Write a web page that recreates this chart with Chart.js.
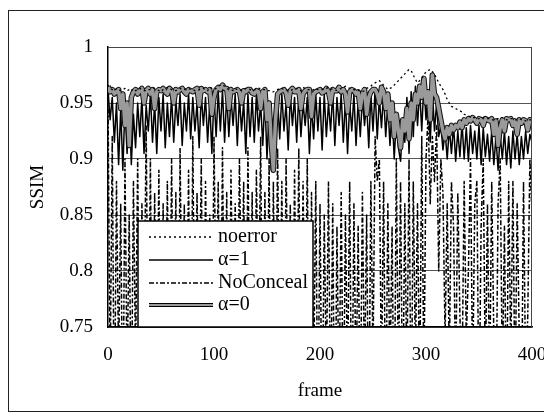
<!DOCTYPE html>
<html><head><meta charset="utf-8">
<script src="https://cdn.jsdelivr.net/npm/chart.js@4.4.1/dist/chart.umd.min.js"></script>
<style>html,body{margin:0;padding:0;background:#fff;}canvas{display:block;}</style>
</head><body>
<canvas id="c" width="544" height="416" style="width:544px;height:416px"></canvas>
<script>
// frame numbers (every 2nd frame, 0..400)
const frames = Array.from({length: 201}, (_, i) => i * 2);
const xTickLabels = ['0', '100', '200', '300', '400'];
const yTickLabels = ['0.75', '0.8', '0.85', '0.9', '0.95', '1'];
const seriesNames = ['noerror', 'α=1', 'NoConceal', 'α=0'];

const noerror = [
0.966,0.963,0.962,0.961,0.963,0.962,0.961,0.962,0.963,0.961,
0.962,0.963,0.960,0.961,0.962,0.963,0.962,0.961,0.961,0.962,
0.962,0.963,0.963,0.962,0.961,0.960,0.962,0.963,0.964,0.963,
0.962,0.961,0.961,0.962,0.963,0.962,0.962,0.963,0.963,0.962,
0.962,0.961,0.961,0.962,0.963,0.963,0.962,0.961,0.964,0.963,
0.962,0.963,0.965,0.966,0.966,0.965,0.963,0.962,0.962,0.961,
0.963,0.962,0.961,0.962,0.962,0.963,0.963,0.962,0.961,0.962,
0.962,0.963,0.963,0.962,0.962,0.961,0.961,0.960,0.960,0.961,
0.962,0.963,0.963,0.962,0.962,0.961,0.961,0.962,0.963,0.963,
0.962,0.961,0.964,0.963,0.962,0.962,0.961,0.962,0.963,0.962,
0.962,0.962,0.963,0.963,0.964,0.963,0.962,0.962,0.961,0.962,
0.963,0.964,0.965,0.964,0.963,0.962,0.962,0.961,0.961,0.961,
0.960,0.961,0.963,0.964,0.965,0.967,0.968,0.969,0.970,0.968,
0.966,0.964,0.962,0.963,0.964,0.966,0.968,0.970,0.972,0.974,
0.976,0.978,0.980,0.979,0.975,0.971,0.968,0.970,0.972,0.975,
0.978,0.979,0.980,0.978,0.976,0.972,0.968,0.965,0.962,0.958,
0.953,0.950,0.947,0.946,0.945,0.944,0.943,0.942,0.940,0.939,
0.938,0.938,0.937,0.937,0.936,0.936,0.937,0.937,0.936,0.936,
0.936,0.935,0.935,0.936,0.936,0.937,0.937,0.936,0.935,0.935,
0.936,0.936,0.935,0.935,0.936,0.935,0.935,0.934,0.934,0.935,
0.935];

const alpha1 = [
0.962,0.935,0.955,0.915,0.950,0.895,0.945,0.890,0.948,0.905,
0.952,0.895,0.940,0.910,0.950,0.920,0.955,0.905,0.948,0.925,
0.958,0.915,0.950,0.905,0.955,0.925,0.958,0.910,0.950,0.920,
0.956,0.915,0.952,0.930,0.958,0.912,0.950,0.925,0.958,0.918,
0.955,0.925,0.950,0.910,0.958,0.930,0.955,0.915,0.950,0.905,
0.958,0.920,0.960,0.925,0.962,0.915,0.958,0.920,0.955,0.930,
0.958,0.912,0.955,0.925,0.952,0.905,0.958,0.920,0.955,0.915,
0.958,0.925,0.950,0.912,0.955,0.900,0.945,0.890,0.892,0.920,
0.955,0.918,0.958,0.925,0.950,0.908,0.958,0.930,0.955,0.915,
0.958,0.920,0.950,0.930,0.955,0.905,0.948,0.918,0.958,0.925,
0.955,0.908,0.958,0.920,0.950,0.925,0.960,0.912,0.955,0.930,
0.958,0.915,0.955,0.905,0.950,0.925,0.958,0.912,0.952,0.920,
0.955,0.930,0.950,0.910,0.958,0.925,0.962,0.918,0.955,0.928,
0.958,0.920,0.950,0.912,0.945,0.900,0.935,0.910,0.898,0.930,
0.915,0.955,0.905,0.960,0.920,0.965,0.930,0.962,0.925,0.968,
0.935,0.960,0.915,0.962,0.925,0.950,0.920,0.930,0.908,0.925,
0.900,0.928,0.905,0.930,0.898,0.925,0.902,0.932,0.900,0.928,
0.898,0.930,0.905,0.925,0.900,0.930,0.895,0.928,0.902,0.922,
0.898,0.925,0.895,0.920,0.890,0.922,0.900,0.925,0.895,0.920,
0.892,0.925,0.900,0.922,0.895,0.920,0.900,0.925,0.905,0.922,
0.915];

const noConceal = [
0.955,0.700,0.920,0.650,0.880,0.720,0.860,0.640,0.900,0.700,
0.850,0.660,0.880,0.720,0.900,0.680,0.860,0.740,0.930,0.700,
0.900,0.660,0.870,0.700,0.890,0.640,0.860,0.720,0.880,0.680,
0.900,0.700,0.870,0.650,0.910,0.720,0.860,0.690,0.890,0.660,
0.920,0.700,0.870,0.740,0.900,0.660,0.880,0.720,0.850,0.690,
0.920,0.760,0.880,0.680,0.910,0.720,0.870,0.650,0.890,0.740,
0.860,0.700,0.900,0.760,0.880,0.660,0.910,0.720,0.870,0.690,
0.890,0.740,0.920,0.680,0.870,0.720,0.900,0.660,0.880,0.700,
0.910,0.720,0.880,0.660,0.900,0.740,0.860,0.690,0.890,0.700,
0.910,0.680,0.880,0.720,0.900,0.660,0.870,0.700,0.880,0.650,
0.860,0.640,0.850,0.700,0.880,0.660,0.860,0.620,0.840,0.680,
0.870,0.650,0.850,0.700,0.880,0.640,0.860,0.690,0.840,0.660,
0.870,0.700,0.850,0.640,0.880,0.720,0.920,0.880,0.900,0.700,
0.880,0.650,0.860,0.700,0.840,0.640,0.900,0.690,0.880,0.660,
0.860,0.700,0.900,0.650,0.880,0.720,0.860,0.680,0.920,0.700,
0.900,0.940,0.860,0.920,0.880,0.930,0.800,0.900,0.870,0.740,
0.860,0.720,0.880,0.840,0.700,0.870,0.760,0.700,0.880,0.740,
0.800,0.900,0.700,0.860,0.880,0.660,0.840,0.900,0.700,0.860,
0.690,0.880,0.740,0.660,0.860,0.900,0.700,0.840,0.660,0.880,
0.720,0.880,0.680,0.860,0.740,0.650,0.880,0.700,0.760,0.900,
0.850];

const alpha0 = [
0.965,0.960,0.962,0.958,0.960,0.962,0.945,0.958,0.930,0.950,
0.912,0.955,0.960,0.962,0.958,0.961,0.963,0.950,0.961,0.963,
0.958,0.962,0.945,0.960,0.962,0.961,0.963,0.960,0.958,0.963,
0.961,0.950,0.962,0.960,0.962,0.963,0.960,0.958,0.962,0.961,
0.960,0.962,0.963,0.948,0.963,0.961,0.962,0.960,0.962,0.940,
0.955,0.962,0.964,0.962,0.966,0.963,0.963,0.945,0.962,0.960,
0.961,0.962,0.960,0.950,0.961,0.960,0.962,0.962,0.959,0.958,
0.961,0.960,0.945,0.960,0.962,0.935,0.950,0.915,0.890,0.935,
0.958,0.960,0.961,0.962,0.959,0.948,0.961,0.963,0.960,0.960,
0.962,0.945,0.958,0.961,0.962,0.962,0.938,0.958,0.960,0.961,
0.962,0.959,0.960,0.963,0.960,0.950,0.962,0.961,0.961,0.964,
0.960,0.962,0.958,0.942,0.960,0.962,0.961,0.958,0.960,0.945,
0.958,0.962,0.940,0.955,0.960,0.962,0.962,0.958,0.950,0.964,
0.960,0.945,0.958,0.935,0.950,0.920,0.940,0.925,0.910,0.935,
0.925,0.945,0.918,0.950,0.935,0.958,0.950,0.965,0.955,0.972,
0.950,0.960,0.935,0.975,0.958,0.955,0.945,0.935,0.925,0.918,
0.928,0.922,0.930,0.926,0.930,0.928,0.933,0.928,0.935,0.932,
0.936,0.934,0.937,0.935,0.932,0.936,0.935,0.930,0.936,0.935,
0.934,0.936,0.922,0.934,0.912,0.928,0.935,0.925,0.936,0.935,
0.936,0.930,0.934,0.922,0.935,0.932,0.935,0.934,0.926,0.935,
0.933];

const FONT = '"Liberation Serif", "Times New Roman", serif';
const tickFont = {family: FONT, size: 19};

const common = {pointRadius: 0, tension: 0, fill: false, clip: 0, borderJoinStyle: 'round'};

const pagePlugin = {
  id: 'page',
  beforeDraw(chart) {
    const c = chart.ctx;
    c.save();
    c.fillStyle = '#fff';
    c.fillRect(0, 0, chart.width, chart.height);
    c.strokeStyle = '#222';
    c.lineWidth = 1;
    c.strokeRect(8.5, 10.5, 580, 401);
    c.restore();
  }
};

const legendPlugin = {
  id: 'boxLegend',
  afterDatasetsDraw(chart) {
    const c = chart.ctx;
    const a = chart.chartArea;
    c.save();
    c.strokeStyle = '#444';
    c.lineWidth = 1;
    c.beginPath();
    c.moveTo(a.left, a.top + 0.5);
    c.lineTo(a.right - 0.5, a.top + 0.5);
    c.lineTo(a.right - 0.5, a.bottom);
    c.stroke();
    const bx = 138, by = 221, bw = 175, bh = a.bottom - 221;
    c.fillStyle = '#fff';
    c.fillRect(bx, by, bw, bh);
    c.strokeStyle = '#000';
    c.lineWidth = 1.5;
    c.strokeRect(bx, by, bw, bh);
    const rows = [237, 260, 283, 305];
    const styles = [{ds: 0}, {ds: 3}, {ds: 4}, {ds: 2, outline: true}];
    c.font = '20px ' + FONT;
    c.textBaseline = 'middle';
    c.fillStyle = '#000';
    styles.forEach((s, i) => {
      const d = chart.data.datasets[s.ds];
      const y = rows[i];
      if (s.outline) {
        c.setLineDash([]);
        c.strokeStyle = '#000';
        c.lineWidth = 4;
        c.beginPath(); c.moveTo(149, y); c.lineTo(213, y); c.stroke();
        c.strokeStyle = '#9a9a9a';
        c.lineWidth = 2;
        c.beginPath(); c.moveTo(149, y); c.lineTo(213, y); c.stroke();
      } else {
        c.setLineDash(d.borderDash || []);
        c.strokeStyle = d.borderColor;
        c.lineWidth = d.borderWidth;
        c.beginPath(); c.moveTo(149, y); c.lineTo(213, y); c.stroke();
      }
      c.setLineDash([]);
      c.fillText(seriesNames[i], 218, y);
    });
    c.restore();
  }
};

new Chart(document.getElementById('c'), {
  type: 'line',
  data: {
    labels: frames,
    datasets: [
      Object.assign({label: seriesNames[0], data: noerror, borderColor: '#000', borderWidth: 1.3, borderDash: [2, 3]}, common),
      Object.assign({label: seriesNames[3], data: alpha0, borderColor: '#9a9a9a', borderWidth: 3.5}, common),
      Object.assign({label: seriesNames[3] + ' outline', data: alpha0, borderColor: '#111', borderWidth: 5.5}, common),
      Object.assign({label: seriesNames[1], data: alpha1, borderColor: '#000', borderWidth: 1.5}, common),
      Object.assign({label: seriesNames[2], data: noConceal, borderColor: '#000', borderWidth: 1.5, borderDash: [5, 2, 2, 2]}, common)
    ]
  },
  options: {
    responsive: false,
    animation: false,
    events: [],
    layout: {padding: {top: 47, right: 12, left: 0, bottom: 0}},
    plugins: {legend: {display: false}, tooltip: {enabled: false}},
    scales: {
      x: {
        type: 'linear', min: 0, max: 400,
        ticks: {stepSize: 100, font: tickFont, color: '#000', padding: 17, maxRotation: 0, autoSkip: false,
                callback: (v, i) => xTickLabels[i]},
        grid: {display: false, drawTicks: false},
        border: {display: true, color: '#000', width: 1.5},
        title: {display: true, text: 'frame', font: tickFont, color: '#000', padding: {top: 0, bottom: 14}},
        afterFit(s) { s.height = 89; s.paddingLeft = 0; s.paddingRight = 0; }
      },
      y: {
        min: 0.75, max: 1,
        ticks: {stepSize: 0.05, font: tickFont, color: '#000', padding: 15,
                callback: (v, i) => yTickLabels[i]},
        grid: {color: '#555', lineWidth: 1, drawTicks: false},
        border: {display: true, color: '#000', width: 1.5},
        title: {display: true, text: 'SSIM', font: tickFont, color: '#000', padding: {top: 27, bottom: 0}},
        afterFit(s) { s.width = 108; s.paddingTop = 0; s.paddingBottom = 0; }
      }
    }
  },
  plugins: [pagePlugin, legendPlugin]
});
</script>
</body></html>
